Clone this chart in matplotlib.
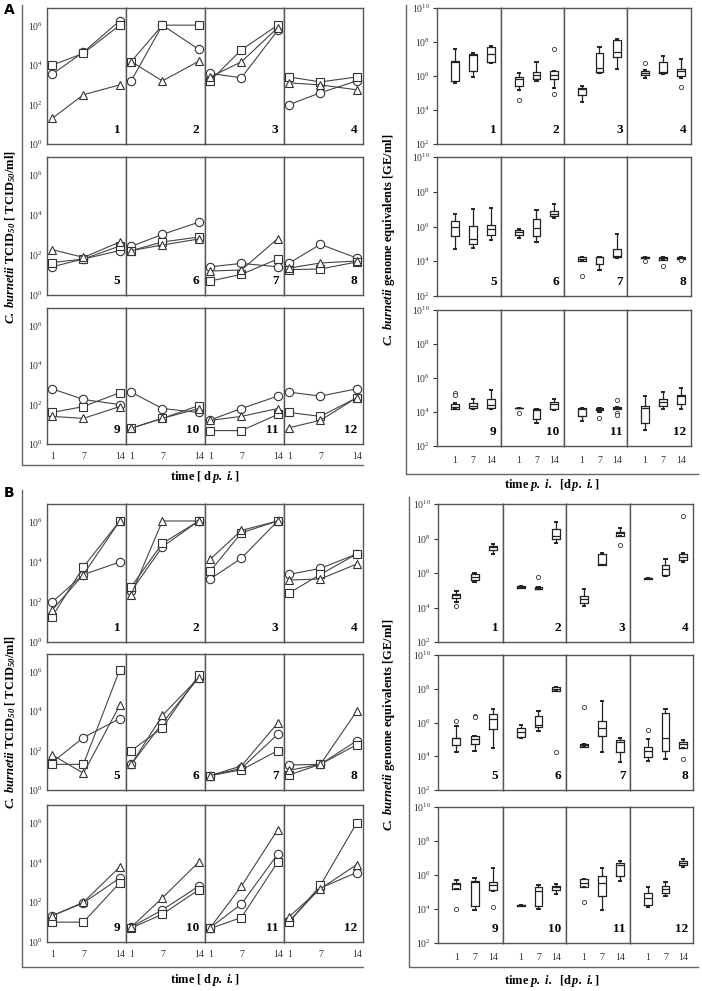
import numpy as np
import matplotlib
matplotlib.use("Agg")
import matplotlib.pyplot as plt
from matplotlib.lines import Line2D

plt.rcParams['font.family'] = ['Liberation Serif', 'DejaVu Serif']
plt.rcParams['mathtext.fontset'] = 'custom'
plt.rcParams['mathtext.rm'] = 'Liberation Serif'
plt.rcParams['mathtext.it'] = 'Liberation Serif:italic'
plt.rcParams['mathtext.bf'] = 'Liberation Serif:bold'
plt.rcParams['mathtext.bfit'] = 'Liberation Serif:italic:bold'

days = [1, 7, 14]
day_labels = ["1", "7", "14"]
panel_names = [str(i) for i in range(1, 13)]

# TCID50 titres, log10 values per panel (1..12), days 1/7/14
A_square = [[4.0, 4.6, 6.03], [4.18, 6.03, 6.03], [3.2, 4.78, 6.03], [3.4, 3.15, 3.4],
            [1.62, 1.8, 2.45], [2.22, 2.65, 2.9], [0.7, 1.03, 1.8], [1.27, 1.3, 1.65],
            [1.6, 1.9, 2.6], [0.8, 1.3, 1.95], [0.68, 0.68, 1.5], [1.6, 1.4, 2.35]]
A_circle = [[3.54, 4.66, 6.25], [3.2, 6.03, 4.8], [3.58, 3.36, 5.77], [2.0, 2.6, 3.2],
            [1.41, 1.8, 2.22], [2.43, 3.03, 3.64], [1.41, 1.58, 1.41], [1.6, 2.53, 1.85],
            [2.8, 2.26, 2.0], [2.63, 1.8, 1.6], [1.22, 1.8, 2.43], [2.63, 2.43, 2.8]]
A_triangle = [[1.3, 2.5, 3.0], [4.18, 3.2, 4.2], [3.4, 4.17, 5.9], [3.1, 3.0, 2.75],
              [2.27, 1.88, 2.65], [2.22, 2.5, 2.8], [1.2, 1.25, 2.82], [1.35, 1.6, 1.7],
              [1.4, 1.3, 1.9], [0.8, 1.3, 1.8], [1.2, 1.4, 1.8], [0.83, 1.2, 2.35]]

B_square = [[1.27, 3.75, 6.05], [2.76, 4.93, 6.05], [3.54, 5.46, 6.05], [2.45, 3.38, 4.4],
            [1.3, 1.3, 6.1], [2.0, 3.15, 5.83], [0.73, 1.02, 2.0], [0.77, 1.3, 2.3],
            [1.0, 1.0, 2.98], [0.7, 1.4, 2.63], [0.68, 1.23, 4.03], [1.0, 2.85, 6.0]]
B_circle = [[2.0, 3.37, 4.0], [2.54, 4.76, 6.05], [3.15, 4.19, 6.05], [3.38, 3.68, 4.4],
            [1.4, 2.66, 3.62], [1.3, 3.4, 5.7], [0.73, 1.1, 2.83], [1.27, 1.3, 2.5],
            [1.32, 1.97, 3.22], [0.75, 1.62, 2.81], [0.72, 1.91, 4.43], [1.05, 2.72, 3.5]]
B_triangle = [[1.6, 3.37, 6.05], [2.37, 6.05, 6.05], [4.14, 5.58, 6.05], [3.1, 3.15, 3.9],
              [1.78, 0.85, 4.3], [1.3, 3.78, 5.7], [0.73, 1.22, 3.4], [1.0, 1.3, 4.0],
              [1.32, 2.0, 3.78], [0.75, 2.22, 4.03], [0.72, 2.81, 5.66], [1.28, 2.68, 3.9]]

# genome equivalents, log10 (whisker low, q1, median, q3, whisker high)
A_box = [
    [(5.57, 5.73, 6.82, 6.88, 7.57), (5.96, 6.3, 7.24, 7.29, 7.33), (6.78, 6.84, 7.29, 7.69, 7.76)],
    [(5.18, 5.41, 5.84, 5.92, 6.2), (5.7, 5.8, 6.06, 6.25, 6.84), (5.27, 5.8, 6.06, 6.29, 6.29)],
    [(4.45, 4.88, 5.22, 5.27, 5.43), (6.2, 6.25, 6.45, 7.37, 7.69), (6.39, 7.14, 7.43, 8.12, 8.18)],
    [(5.86, 6.06, 6.16, 6.29, 6.35), (6.12, 6.16, 6.25, 6.84, 7.18), (5.9, 6.02, 6.29, 6.41, 6.98)],
    [(4.73, 5.47, 6.0, 6.29, 6.7), (4.75, 5.02, 5.27, 6.05, 6.99), (5.22, 5.51, 5.86, 6.11, 7.07)],
    [(5.35, 5.51, 5.66, 5.8, 5.86), (5.12, 5.43, 5.9, 6.44, 6.93), (6.48, 6.6, 6.74, 6.89, 7.28)],
    [(4.0, 4.0, 4.12, 4.26, 4.26), (3.52, 3.85, 4.24, 4.24, 4.24), (4.2, 4.24, 4.3, 4.73, 5.57)],
    [(4.2, 4.2, 4.22, 4.26, 4.26), (4.1, 4.1, 4.2, 4.24, 4.24), (4.14, 4.14, 4.2, 4.24, 4.24)],
    [(4.16, 4.2, 4.29, 4.49, 4.55), (4.16, 4.25, 4.33, 4.53, 4.78), (4.2, 4.24, 4.43, 4.78, 5.27)],
    [(4.24, 4.24, 4.24, 4.24, 4.24), (3.37, 3.57, 4.14, 4.2, 4.2), (4.1, 4.2, 4.49, 4.59, 4.78)],
    [(3.5, 3.75, 4.2, 4.24, 4.24), (4.0, 4.1, 4.2, 4.25, 4.25), (4.2, 4.2, 4.24, 4.27, 4.29)],
    [(2.92, 3.35, 4.25, 4.33, 4.94), (4.2, 4.33, 4.59, 4.75, 5.18), (4.2, 4.49, 4.94, 4.98, 5.43)],
]
A_fliers = [[[], [], []], [[4.59], [], [7.57, 4.92]], [[], [], []], [[6.78], [], [5.37]],
            [[], [], []], [[], [], []], [[3.17], [], []], [[4.0], [3.75], [4.07]],
            [[5.12, 4.98], [], []], [[3.94], [], []], [[], [3.65], [4.73, 3.96, 3.8]], [[], [], []]]

B_box = [
    [(4.31, 4.56, 4.7, 4.8, 4.95), (5.5, 5.59, 5.79, 5.92, 6.02), (7.09, 7.32, 7.48, 7.57, 7.67)],
    [(5.15, 5.15, 5.2, 5.22, 5.22), (5.05, 5.05, 5.1, 5.2, 5.2), (7.73, 7.96, 8.16, 8.54, 8.93)],
    [(4.08, 4.27, 4.5, 4.66, 5.05), (6.47, 6.47, 6.5, 7.09, 7.15), (8.16, 8.16, 8.29, 8.39, 8.58)],
    [(5.65, 5.65, 5.69, 5.72, 5.72), (5.83, 5.88, 6.25, 6.45, 6.8), (6.64, 6.76, 6.95, 7.09, 7.15)],
    [(4.23, 4.64, 5.07, 5.1, 5.8), (4.29, 4.72, 5.01, 5.2, 5.2), (4.49, 5.61, 6.23, 6.52, 6.82)],
    [(5.07, 5.17, 5.42, 5.69, 5.88), (5.5, 5.75, 5.88, 6.39, 6.66), (7.88, 7.88, 7.98, 8.08, 8.08)],
    [(4.52, 4.52, 4.64, 4.72, 4.72), (4.23, 5.2, 5.65, 6.08, 7.26), (3.65, 4.23, 4.87, 4.97, 5.1)],
    [(3.71, 3.96, 4.29, 4.52, 5.0), (3.86, 4.29, 5.07, 6.58, 6.82), (4.49, 4.49, 4.72, 4.83, 4.97)],
    [(5.17, 5.17, 5.48, 5.55, 5.71), (3.96, 4.16, 5.61, 5.65, 5.81), (5.03, 5.13, 5.42, 5.61, 6.39)],
    [(4.2, 4.2, 4.23, 4.26, 4.26), (4.0, 4.19, 5.03, 5.28, 5.42), (4.89, 5.13, 5.28, 5.36, 5.46)],
    [(5.32, 5.32, 5.55, 5.75, 5.75), (3.92, 4.74, 5.55, 5.94, 6.39), (5.65, 5.96, 6.58, 6.72, 6.82)],
    [(4.12, 4.25, 4.64, 4.97, 5.32), (4.78, 4.93, 5.17, 5.36, 5.61), (6.45, 6.58, 6.72, 6.83, 6.93)],
]
B_fliers = [[[4.08], [], []], [[], [5.77], []], [[], [], [7.61]], [[], [], [9.32]],
            [[6.08], [6.4, 6.33], []], [[], [], [4.25]], [[6.91], [], []], [[5.55], [], [3.86]],
            [[4.0], [], [4.1]], [[], [], []], [[4.41], [], []], [[], [], []]]

W, H = 702, 991
fig = plt.figure(figsize=(W / 100, H / 100), dpi=100)
edge = "#555555"


def px_axes(x0, y0, x1, y1):
    return fig.add_axes([x0 / W, 1 - y1 / H, (x1 - x0) / W, (y1 - y0) / H])


def fig_line(x, y):
    fig.add_artist(Line2D([v / W for v in x], [1 - v / H for v in y], color="#666666", lw=1.0))


def style_panel(ax):
    for s in ax.spines.values():
        s.set_color(edge)
        s.set_linewidth(1.0)


def line_block(xs, rows, sq, ci, tr):
    for r, (y0, y1) in enumerate(rows):
        for c in range(4):
            k = r * 4 + c
            ax = px_axes(xs[c], y0, xs[c + 1], y1)
            style_panel(ax)
            ax.set_yscale("log")
            for vals, m in [(ci[k], "o"), (sq[k], "s"), (tr[k], "^")]:
                ax.plot(days, [10 ** v for v in vals], color="#444444", lw=0.8, marker=m,
                        markersize=6 if m != "s" else 5.5, markerfacecolor="white",
                        markeredgecolor="#333333", markeredgewidth=0.8, clip_on=False, zorder=3)
            ax.set_xlim(0.0, 15.2)
            ax.set_ylim(1, 10 ** 6.9)
            ax.minorticks_off()
            ax.tick_params(length=0, labelsize=7, pad=3)
            if c == 0:
                ax.set_yticks([1, 1e2, 1e4, 1e6])
                ax.set_yticklabels(["$10^{0}$", "$10^{2}$", "$10^{4}$", "$10^{6}$"], color="#333333")
            else:
                ax.set_yticks([])
            if r == 2:
                ax.set_xticks(days)
                ax.set_xticklabels(day_labels, color="#333333")
                ax.tick_params(axis="x", pad=6)
            else:
                ax.set_xticks([])
            ax.text(0.93, 0.06, panel_names[k], transform=ax.transAxes, ha="right", va="bottom",
                    fontsize=9.5, fontweight="bold")


def box_block(xs, rows, boxes, fliers):
    for r, (y0, y1) in enumerate(rows):
        for c in range(4):
            k = r * 4 + c
            ax = px_axes(xs[c], y0, xs[c + 1], y1)
            style_panel(ax)
            stats = []
            for b, fl in zip(boxes[k], fliers[k]):
                lo, q1, med, q3, hi = b
                stats.append(dict(whislo=10 ** lo, q1=10 ** q1, med=10 ** med, q3=10 ** q3,
                                  whishi=10 ** hi, fliers=[10 ** f for f in fl]))
            ax.bxp(stats, positions=[1, 2, 3], widths=0.45, capwidths=0.14, showfliers=True,
                   boxprops=dict(color="#222222", lw=0.9),
                   medianprops=dict(color="#222222", lw=0.9),
                   whiskerprops=dict(color="#222222", lw=0.9),
                   capprops=dict(color="#222222", lw=1.4),
                   flierprops=dict(marker="o", markersize=3, markerfacecolor="white",
                                   markeredgecolor="#333333", markeredgewidth=0.6))
            ax.set_yscale("log")
            ax.set_xlim(0.0, 3.55)
            ax.set_ylim(1e2, 1e10)
            ax.minorticks_off()
            ax.tick_params(labelsize=7, pad=2)
            if c == 0:
                ax.set_yticks([1e2, 1e4, 1e6, 1e8, 1e10])
                ax.set_yticklabels(["$10^{2}$", "$10^{4}$", "$10^{6}$", "$10^{8}$", "$10^{10}$"],
                                   color="#333333")
                ax.tick_params(axis="y", length=3, width=0.8, color="#333333")
            else:
                ax.set_yticks([])
            if r == 2:
                ax.set_xticks([1, 2, 3])
                ax.set_xticklabels(day_labels, color="#333333")
                ax.tick_params(axis="x", length=0, pad=7)
            else:
                ax.set_xticks([])
            ax.text(0.93, 0.06, panel_names[k], transform=ax.transAxes, ha="right", va="bottom",
                    fontsize=9.5, fontweight="bold")


left_x = [47, 126, 205, 284, 363]
rightA_x = [437, 501, 564, 627, 691]
rightB_x = [438, 503, 566, 630, 693]

line_block(left_x, [(8, 144), (157, 295), (308, 444)], A_square, A_circle, A_triangle)
box_block(rightA_x, [(8, 144), (157, 296), (310, 446)], A_box, A_fliers)
line_block(left_x, [(504, 642), (654, 790), (805, 942)], B_square, B_circle, B_triangle)
box_block(rightB_x, [(504, 642), (655, 790), (807, 943)], B_box, B_fliers)

# outer L-shaped frames
fig_line([22, 22, 363], [5, 465, 465])
fig_line([406, 406, 698], [5, 474, 474])
fig_line([22, 22, 363], [490, 967, 967])
fig_line([409, 409, 698], [497, 967, 967])

tcid_label = r"$\mathbfit{C.\ burnetii}\ \mathbf{TCID}_{\mathbfit{50}}\ \mathbf{[\ TCID}_{\mathbfit{50}}\mathbf{/ml]}$"
ge_label = r"$\mathbfit{C.\ burnetii}\ \mathbf{genome\ equivalents\ [GE/ml]}$"
left_time = r"$\mathbf{time\ [\ d}\,\mathbfit{p.\ i.}\mathbf{]}$"
right_time = r"$\mathbf{time}\ \mathbfit{p.\ i.}\ \ \mathbf{[d}\,\mathbfit{p.\ i.}\mathbf{]}$"

for yc in [237, 722]:
    fig.text(11 / W, 1 - yc / H, tcid_label, rotation=90, ha="center", va="center", fontsize=9)
for yc in [240, 725]:
    fig.text(389 / W, 1 - yc / H, ge_label, rotation=90, ha="center", va="center", fontsize=9)

fig.text(205 / W, 1 - 477 / H, left_time, ha="center", va="center", fontsize=9)
fig.text(205 / W, 1 - 980 / H, left_time, ha="center", va="center", fontsize=9)
fig.text(552 / W, 1 - 485 / H, right_time, ha="center", va="center", fontsize=9)
fig.text(552 / W, 1 - 981 / H, right_time, ha="center", va="center", fontsize=9)

fig.text(4 / W, 1 - 10 / H, "A", family="DejaVu Sans", fontweight="bold", fontsize=10, va="center")
fig.text(4 / W, 1 - 493 / H, "B", family="DejaVu Sans", fontweight="bold", fontsize=10, va="center")

plt.savefig("out.png", dpi=100, facecolor="white")
